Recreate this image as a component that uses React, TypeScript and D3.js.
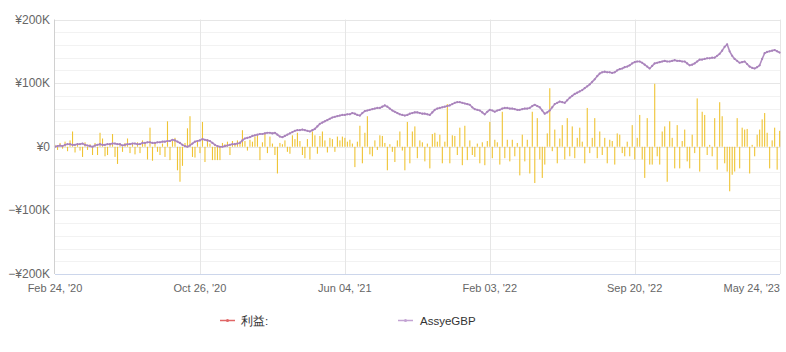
import React from "react";
import * as d3 from "d3";

// Daily profit bars (thousand yen), one per trading-day slot
const profitK: number[] = [
  3, -5, 6, -3, 8, -7, 10, 24, -9, 5, -6, -16, 7, -5, 4, -13, 6, -13, 22, 13,
  -15, -13, 5, 20, -16, -27, 4, -8, 6, 13, -10, 5, -12, 7, -10, 10, 5, -20, 30, -22,
  6, -8, -13, 5, -16, 40, -21, 9, 14, -37, -55, -30, 6, 29, 48, -16, -17, 8, -10, 39,
  -24, 12, 5, -21, -21, -21, -21, 6, 4, 8, -13, 9, 6, 10, 8, 26, 9, -6, 11, 8,
  16, 18, -21, 7, 20, -10, 16, 5, -13, -42, 6, 4, 10, -8, -11, 18, 12, 22, 9, -13,
  -18, 12, -20, 24, 18, -11, 17, 24, 10, -9, 14, 12, -8, 16, 10, 16, 14, 8, 11, 5,
  -32, 8, 33, -26, 22, 48, -12, -15, 10, -5, 18, 17, 6, -37, 4, -8, -24, 10, 24, -6,
  -37, 39, -26, 24, 32, -18, 10, 7, -23, 5, -34, 20, 22, 8, 19, -26, 8, 67, -26, 18,
  17, -13, 30, -29, 33, -21, 10, -13, -16, 5, -26, 7, -29, 9, 39, -18, 11, 7, -28, 55,
  -18, 11, -23, 11, -15, 6, -45, 19, -23, 11, -42, 55, -57, 45, -20, -49, -28, 21, 92, -7,
  27, -26, 13, 34, -20, 45, -15, 32, -18, 14, 30, 8, -26, 61, -10, 14, 45, -18, 24, -13,
  14, -26, 11, 9, -28, 21, 19, -10, -15, 8, -15, 34, -20, 14, 50, -20, -49, 45, -28, -28,
  99, -15, -28, 24, 32, -55, 40, 14, -34, 34, -34, 9, 27, -23, -34, 19, -10, 76, -39, 55,
  50, -13, 3, -15, 45, -36, 70, 48, -26, -39, -70, -44, -39, 45, -34, 30, 27, 28, -42, 3,
  -15, 19, 27, 43, 53, 22, -34, 10, 30, -36, 25,
];

// Cumulative balance of AssyeGBP (thousand yen)
const balanceK: number[] = [
  0, 1, 2, 1, 3, 4, 4, 3, 3, 4, 4, 5, 3, 2, 1, 0, 2, 3, 4, 3,
  3, 4, 4, 5, 5, 4, 4, 2, 3, 4, 4, 5, 5, 4, 4, 6, 6, 7, 7, 6,
  6, 7, 7, 8, 8, 9, 9, 11, 10, 8, 6, 3, 1, 0, 2, 5, 8, 9, 10, 12,
  11, 10, 9, 6, 3, 1, 0, 0, 1, 2, 3, 4, 4, 5, 6, 10, 13, 14, 15, 17,
  18, 19, 20, 20, 21, 22, 22, 21, 22, 19, 16, 15, 17, 19, 21, 23, 25, 26, 26, 27,
  26, 25, 24, 26, 28, 32, 36, 38, 40, 42, 44, 46, 47, 48, 49, 50, 50, 51, 51, 53,
  52, 50, 49, 53, 56, 57, 58, 59, 60, 61, 61, 63, 65, 63, 60, 57, 55, 53, 51, 50,
  49, 50, 52, 53, 54, 54, 53, 52, 52, 51, 50, 54, 58, 60, 61, 62, 63, 64, 65, 67,
  69, 70, 70, 69, 68, 67, 66, 62, 59, 58, 57, 54, 51, 55, 58, 57, 55, 57, 58, 60,
  61, 61, 60, 60, 59, 58, 58, 59, 60, 60, 61, 64, 66, 64, 62, 57, 52, 54, 57, 62,
  67, 69, 71, 70, 69, 73, 77, 80, 83, 85, 87, 89, 92, 95, 98, 102, 106, 111, 115, 117,
  118, 117, 117, 116, 117, 120, 122, 123, 125, 126, 128, 131, 133, 134, 134, 132, 129, 126, 123, 127,
  131, 132, 133, 134, 135, 134, 134, 135, 136, 135, 135, 134, 134, 131, 128, 129, 131, 134, 137, 137,
  138, 139, 139, 140, 140, 143, 146, 151, 157, 161, 150, 143, 138, 135, 132, 133, 134, 130, 126, 124,
  123, 125, 128, 138, 147, 149, 150, 151, 152, 150, 148,
];

const tickIndex: number[] = [0, 58, 116, 174, 232, 290];
const tickLabels: string[] = ["Feb 24, '20", "Oct 26, '20", "Jun 04, '21", "Feb 03, '22", "Sep 20, '22", "May 24, '23"];
const yMajor: number[] = [-200, -100, 0, 100, 200];
const yMinor: number[] = [-180, -160, -140, -120, -80, -60, -40, -20, 20, 40, 60, 80, 120, 140, 160, 180];
const legendNames: string[] = ["利益:", "AssyeGBP"];

const W = 786;
const H = 352;
const FONT = "'Liberation Sans', Arial, sans-serif";

function fmtY(v: number): string {
  if (v === 0) return "¥0";
  const s = `¥${Math.abs(v)}K`;
  return v < 0 ? "−" + s : s;
}

export default function App() {
  const x = d3.scaleLinear().domain([0, profitK.length - 1]).range([55, 779.6]);
  const y = d3.scaleLinear().domain([-200, 200]).range([274, 19.5]);
  const line = d3
    .line<number>()
    .x((_, i) => x(i))
    .y((d) => y(d));

  const left = 55;
  const right = 780;

  return (
    <svg
      width={W}
      height={H}
      style={{ position: "absolute", left: 0, top: 0, background: "#fff" }}
      fontFamily={FONT}
    >
      {yMinor.map((v) => (
        <line key={"mn" + v} x1={left} x2={right} y1={Math.round(y(v)) + 0.5} y2={Math.round(y(v)) + 0.5} stroke="#f2f2f2" />
      ))}
      {yMajor.map((v) => (
        <line key={"mj" + v} x1={left} x2={right} y1={Math.round(y(v)) + 0.5} y2={Math.round(y(v)) + 0.5} stroke="#e6e6e6" />
      ))}
      {tickIndex.slice(1).map((t) => (
        <line key={"vg" + t} x1={Math.round(x(t)) + 0.5} x2={Math.round(x(t)) + 0.5} y1={19.5} y2={274} stroke="#e6e6e6" />
      ))}
      {profitK.map((v, i) => (
        <rect
          key={"b" + i}
          x={x(i) - 0.5}
          width={1.1}
          y={y(Math.max(0, v))}
          height={Math.abs(y(v) - y(0))}
          fill="#efc434"
        />
      ))}
      <path d={line(balanceK) || ""} fill="none" stroke="#b08cc1" strokeWidth={1.6} strokeLinejoin="round" />
      {balanceK.map((v, i) => (
        <circle key={"m" + i} cx={x(i)} cy={y(v)} r={1.1} fill="#a983bb" />
      ))}
      <line x1={left - 0.5} x2={left - 0.5} y1={19.5} y2={274} stroke="#d0d0d0" strokeWidth={1} />
      <line x1={left} x2={right} y1={274.5} y2={274.5} stroke="#ccd6eb" />
      {yMajor.map((v) => (
        <text key={"yl" + v} x={50} y={y(v) + 4} textAnchor="end" fontSize={12} fill="#666">
          {fmtY(v)}
        </text>
      ))}
      {tickIndex.map((t, k) => (
        <text
          key={"xl" + t}
          x={k === tickIndex.length - 1 ? 780 : x(t)}
          y={292}
          textAnchor={k === tickIndex.length - 1 ? "end" : "middle"}
          fontSize={11}
          fill="#666"
        >
          {tickLabels[k]}
        </text>
      ))}
      <g>
        <line x1={220} x2={235} y1={320.5} y2={320.5} stroke="#e06666" strokeWidth={1.5} />
        <circle cx={227.5} cy={320.5} r={1.5} fill="#e06666" />
        <text x={241} y={324.5} fontSize={11.5} fill="#333">
          {legendNames[0]}
        </text>
        <line x1={398} x2={413} y1={320.5} y2={320.5} stroke="#c3a3d3" strokeWidth={1.5} />
        <circle cx={405.5} cy={320.5} r={1.5} fill="#c3a3d3" />
        <text x={420} y={324.5} fontSize={11.5} fill="#333">
          {legendNames[1]}
        </text>
      </g>
    </svg>
  );
}
